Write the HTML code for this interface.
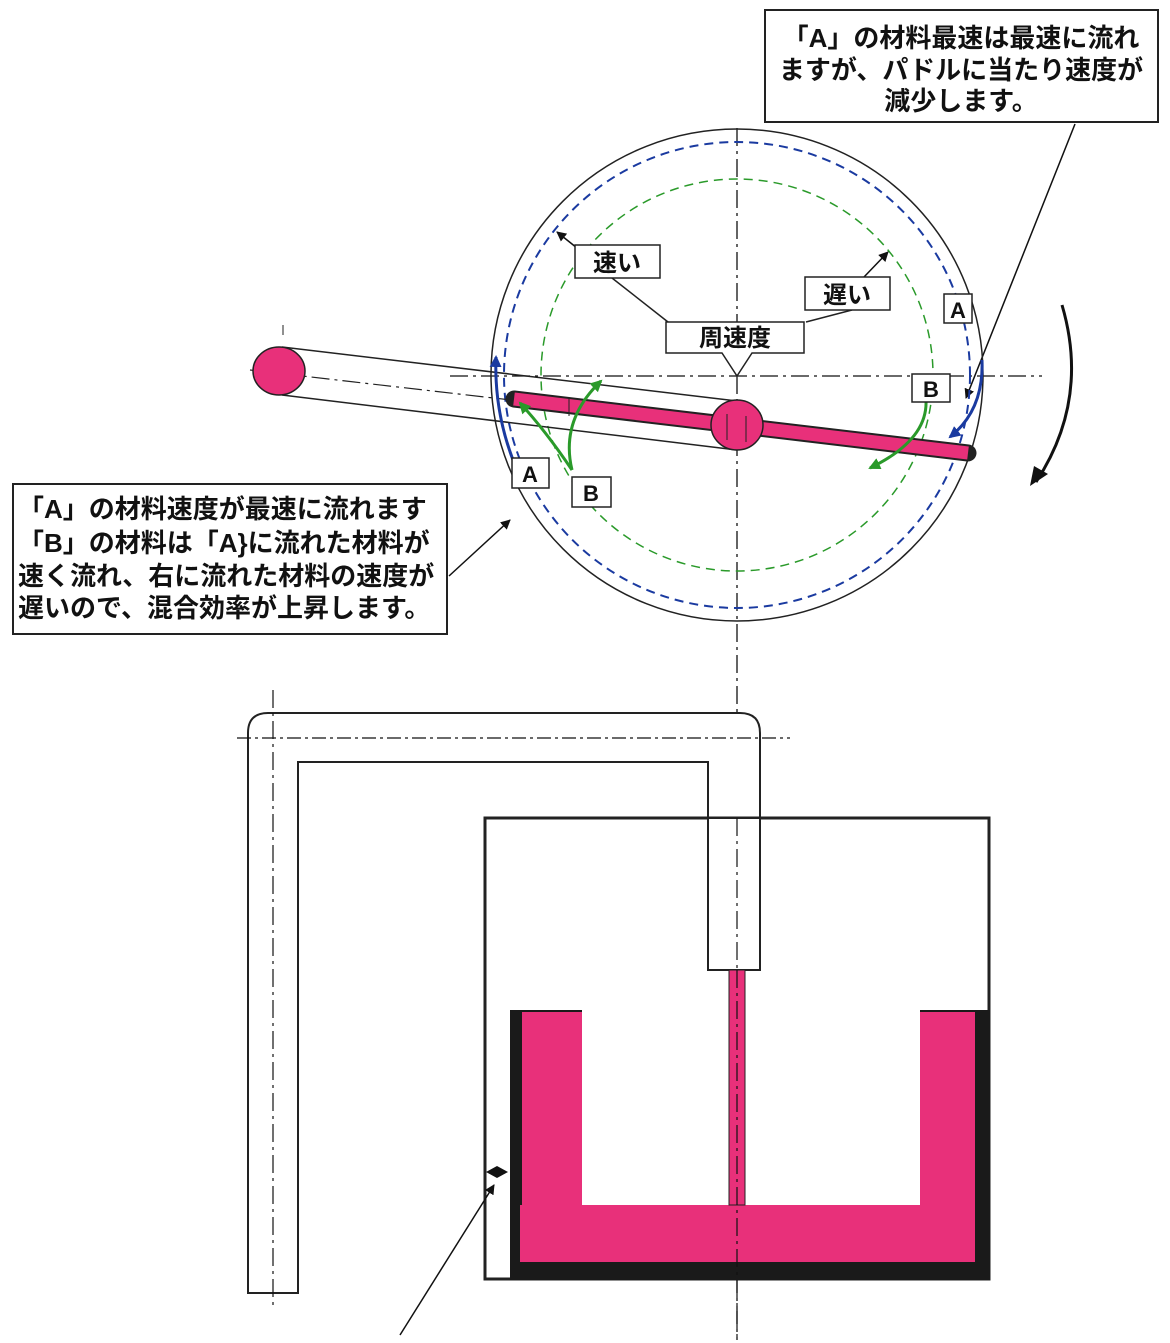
<!DOCTYPE html>
<html><head><meta charset="utf-8"><style>
html,body{margin:0;padding:0;background:#fff}
svg{display:block}
text{font-family:"Liberation Sans","Noto Sans CJK JP",sans-serif;fill:#111;font-weight:bold}
</style></head><body>
<svg width="1170" height="1343" viewBox="0 0 1170 1343" xmlns="http://www.w3.org/2000/svg">
<defs>
<marker id="ab" markerWidth="10" markerHeight="10" refX="9" refY="5" orient="auto" markerUnits="userSpaceOnUse"><path d="M0,0 L10,5 L0,10 z" fill="#111"/></marker>
<marker id="ag" markerWidth="12" markerHeight="12" refX="10" refY="6" orient="auto" markerUnits="userSpaceOnUse"><path d="M0,0 L12,6 L0,12 z" fill="#2a9a2a"/></marker>
<marker id="abl" markerWidth="12" markerHeight="12" refX="10" refY="6" orient="auto" markerUnits="userSpaceOnUse"><path d="M0,0 L12,6 L0,12 z" fill="#1a3aa0"/></marker>
</defs>
<rect x="765" y="10" width="393" height="112" fill="#fff" stroke="#222" stroke-width="2"/>
<text x="961" y="47" font-size="26" text-anchor="middle">「A」の材料最速は最速に流れ</text>
<text x="961" y="79" font-size="26" text-anchor="middle">ますが、パドルに当たり速度が</text>
<text x="961" y="110" font-size="26" text-anchor="middle">減少します。</text>
<line x1="1075" y1="124" x2="966" y2="398" stroke="#111" stroke-width="1.5" marker-end="url(#ab)"/>
<line x1="737" y1="128" x2="737" y2="1340" stroke="#111" stroke-width="1.3" stroke-dasharray="18,5,3,5"/>
<line x1="450" y1="376" x2="1042" y2="376" stroke="#111" stroke-width="1.3" stroke-dasharray="18,5,3,5"/>
<circle cx="737" cy="375" r="246" fill="none" stroke="#222" stroke-width="1.5"/>
<circle cx="737" cy="375" r="233" fill="none" stroke="#1a3aa0" stroke-width="2" stroke-dasharray="9,6"/>
<circle cx="737" cy="375" r="196" fill="none" stroke="#2a9a2a" stroke-width="1.5" stroke-dasharray="9,6"/>
<line x1="282" y1="347" x2="737" y2="401" stroke="#222" stroke-width="1.5"/>
<line x1="282" y1="395" x2="737" y2="450" stroke="#222" stroke-width="1.5"/>
<line x1="250" y1="370" x2="737" y2="426" stroke="#222" stroke-width="1.2" stroke-dasharray="18,5,3,5"/>
<line x1="283" y1="325" x2="283" y2="400" stroke="#222" stroke-width="1" stroke-dasharray="10,20"/>
<ellipse cx="279" cy="371" rx="26" ry="24" fill="#e8307a" stroke="#222" stroke-width="1.5"/>
<line x1="514" y1="399" x2="968" y2="453" stroke="#222" stroke-width="17" stroke-linecap="round"/>
<line x1="514" y1="399" x2="968" y2="453" stroke="#e8307a" stroke-width="13"/>
<ellipse cx="737" cy="425" rx="26" ry="25" fill="#e8307a" stroke="#222" stroke-width="1.5"/>
<line x1="727" y1="414" x2="727" y2="440" stroke="#222"/><line x1="746" y1="416" x2="746" y2="442" stroke="#222"/>
<line x1="569" y1="398" x2="569" y2="416" stroke="#222"/>
<path d="M513,460 Q494,410 496,357" fill="none" stroke="#1a3aa0" stroke-width="3" marker-end="url(#abl)"/>
<path d="M982,360 Q984,410 950,437" fill="none" stroke="#1a3aa0" stroke-width="3" marker-end="url(#abl)"/>
<path d="M572,470 Q545,430 520,403" fill="none" stroke="#2a9a2a" stroke-width="3" marker-end="url(#ag)"/>
<path d="M572,470 Q560,420 601,381" fill="none" stroke="#2a9a2a" stroke-width="3" marker-end="url(#ag)"/>
<path d="M926,400 Q928,440 870,468" fill="none" stroke="#2a9a2a" stroke-width="3" marker-end="url(#ag)"/>
<line x1="612" y1="278" x2="668" y2="322" stroke="#222" stroke-width="1.5"/>
<line x1="852" y1="310" x2="806" y2="322" stroke="#222" stroke-width="1.5"/>
<line x1="577" y1="248" x2="557" y2="232" stroke="#111" stroke-width="1.5" marker-end="url(#ab)"/>
<line x1="864" y1="277" x2="888" y2="252" stroke="#111" stroke-width="1.5" marker-end="url(#ab)"/>
<rect x="575" y="245" width="85" height="33" fill="#fff" stroke="#222" stroke-width="1.5"/>
<text x="617" y="271" font-size="24" text-anchor="middle">速い</text>
<rect x="805" y="277" width="85" height="33" fill="#fff" stroke="#222" stroke-width="1.5"/>
<text x="847" y="303" font-size="24" text-anchor="middle">遅い</text>
<path d="M666,322 H804 V353 H752 L737,376 L722,353 H666 Z" fill="#fff" stroke="#222" stroke-width="1.5"/>
<text x="735" y="346" font-size="24" text-anchor="middle">周速度</text>
<rect x="944" y="294" width="28" height="29" fill="#fff" stroke="#222" stroke-width="1.5"/><text x="958" y="318" font-size="22" text-anchor="middle">A</text>
<rect x="912" y="374" width="38" height="28" fill="#fff" stroke="#222" stroke-width="1.5"/><text x="931" y="397" font-size="22" text-anchor="middle">B</text>
<rect x="512" y="458" width="37" height="30" fill="#fff" stroke="#222" stroke-width="1.5"/><text x="530" y="482" font-size="22" text-anchor="middle">A</text>
<rect x="572" y="477" width="39" height="30" fill="#fff" stroke="#222" stroke-width="1.5"/><text x="591" y="501" font-size="22" text-anchor="middle">B</text>
<path d="M1062,305 Q1090,400 1036,482" fill="none" stroke="#111" stroke-width="3"/>
<path d="M1030,486 L1034,466 L1048,474 Z" fill="#111"/>
<rect x="13" y="484" width="434" height="150" fill="#fff" stroke="#222" stroke-width="2"/>
<text x="18" y="518" font-size="26">「A」の材料速度が最速に流れます</text>
<text x="18" y="552" font-size="26">「B」の材料は「A}に流れた材料が</text>
<text x="18" y="585" font-size="26">速く流れ、右に流れた材料の速度が</text>
<text x="18" y="617" font-size="26">遅いので、混合効率が上昇します。</text>
<line x1="449" y1="576" x2="510" y2="520" stroke="#111" stroke-width="1.5" marker-end="url(#ab)"/>
<path d="M248,1293 V733 Q248,713 268,713 H740 Q760,713 760,733 V970 H708 V762 H298 V1293 Z" fill="#fff" stroke="#222" stroke-width="2"/>
<line x1="237" y1="738" x2="790" y2="738" stroke="#111" stroke-width="1.3" stroke-dasharray="14,4,3,4"/>
<line x1="273" y1="690" x2="273" y2="1310" stroke="#111" stroke-width="1.2" stroke-dasharray="18,5,3,5"/>
<rect x="485" y="818" width="504" height="461" fill="none" stroke="#222" stroke-width="3"/>
<rect x="708" y="818" width="52" height="152" fill="#fff" stroke="#222" stroke-width="2"/>
<line x1="737" y1="818" x2="737" y2="970" stroke="#111" stroke-width="1.2" stroke-dasharray="18,5,3,5"/>
<rect x="510" y="1010" width="480" height="270" fill="#1a1a1a"/>
<rect x="522" y="1012" width="60" height="250" fill="#e8307a"/>
<rect x="520" y="1205" width="455" height="57" fill="#e8307a"/>
<rect x="920" y="1012" width="55" height="250" fill="#e8307a"/>
<rect x="582" y="1010" width="338" height="195" fill="#fff"/>
<rect x="729" y="970" width="16" height="235" fill="#e8307a" stroke="#222" stroke-width="1"/>
<line x1="737" y1="970" x2="737" y2="1340" stroke="#111" stroke-width="1.2" stroke-dasharray="18,5,3,5"/>
<path d="M486,1172 L497,1166 L508,1172 L497,1178 Z" fill="#111"/>
<line x1="400" y1="1335" x2="494" y2="1185" stroke="#111" stroke-width="1.5" marker-end="url(#ab)"/>
</svg>
</body></html>
